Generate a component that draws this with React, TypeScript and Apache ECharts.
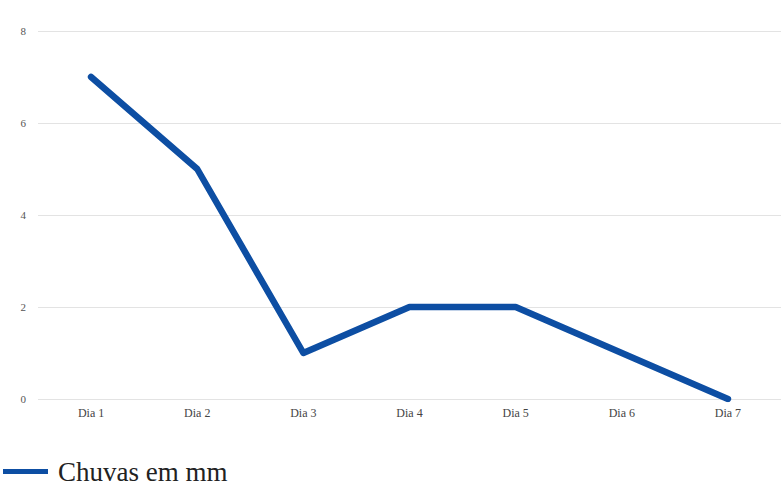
import React, { useEffect, useRef } from "react";
import * as echarts from "echarts";

const categories = ["Dia 1", "Dia 2", "Dia 3", "Dia 4", "Dia 5", "Dia 6", "Dia 7"];
const chuvas = [7, 5, 1, 2, 2, 1, 0];
const seriesName = "Chuvas em mm";
const FONT = "'Liberation Serif', 'Times New Roman', serif";

export default function App() {
  const ref = useRef<HTMLDivElement>(null);
  useEffect(() => {
    if (!ref.current) return;
    const chart = echarts.init(ref.current, undefined, { renderer: "svg" });
    chart.setOption({
      animation: false,
      backgroundColor: "#ffffff",
      textStyle: { fontFamily: FONT },
      grid: { left: 38, top: 31, width: 752, height: 368, containLabel: false },
      legend: {
        left: 3,
        top: 458,
        padding: 0,
        icon: "rect",
        itemWidth: 45,
        itemHeight: 5,
        itemGap: 10,
        textStyle: {
          fontSize: 27,
          color: "#222222",
          fontFamily: FONT,
          padding: [0, 0, 0, 5],
        },
        data: [seriesName],
      },
      xAxis: {
        type: "category",
        data: categories,
        boundaryGap: true,
        axisLine: { show: false },
        axisTick: { show: false },
        axisLabel: { color: "#444444", fontSize: 12, margin: 8, fontFamily: FONT },
      },
      yAxis: {
        type: "value",
        min: 0,
        max: 8,
        interval: 2,
        axisLine: { show: false },
        axisTick: { show: false },
        axisLabel: { color: "#555555", fontSize: 11, margin: 12, fontFamily: FONT },
        splitLine: { lineStyle: { color: "#e3e3e3", width: 1 } },
      },
      series: [
        {
          name: seriesName,
          type: "line",
          data: chuvas,
          symbol: "none",
          color: "#0d4ea3",
          lineStyle: { width: 6.5, color: "#0d4ea3", cap: "round", join: "round" },
        },
      ],
    });
    return () => chart.dispose();
  }, []);
  return (
    <div
      ref={ref}
      style={{ position: "absolute", left: 0, top: 0, width: 781, height: 485 }}
    />
  );
}
